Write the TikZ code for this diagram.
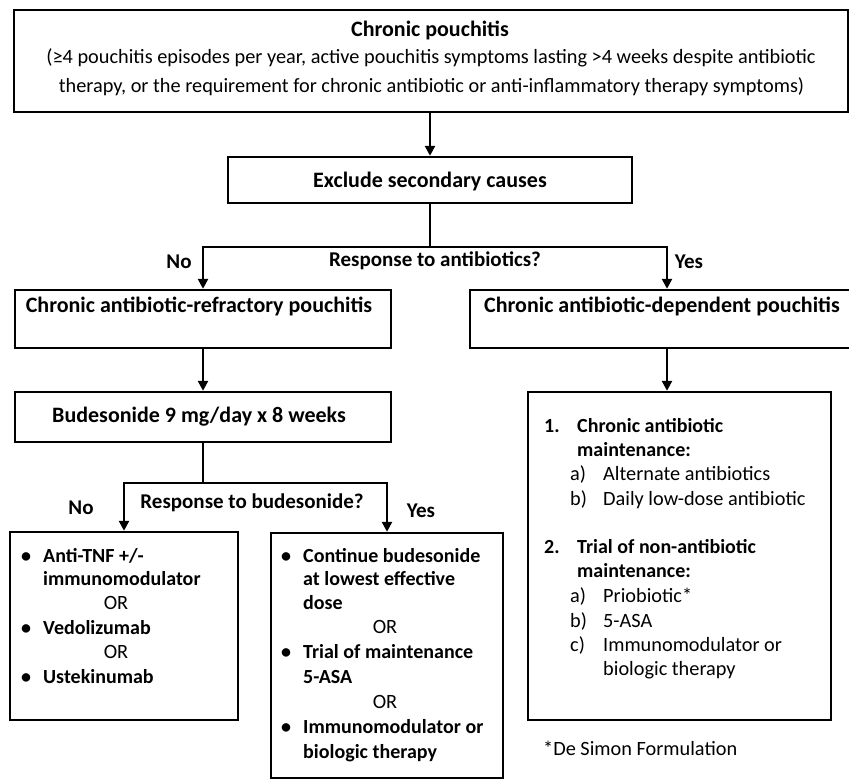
\documentclass[tikz,border=0pt]{standalone}
\usepackage{fontspec}
\setmainfont{Carlito}
\usetikzlibrary{arrows.meta}

\begin{document}
\begin{tikzpicture}[x=1pt,y=-1pt,
	box/.style={draw,line width=2.4pt,inner sep=0pt},
	ln/.style={line width=2.4pt},
	arr/.style={line width=2.4pt,-{Triangle[length=10pt,width=10pt]}},
	lbl/.style={inner sep=0pt,font=\fontsize{20.3}{24}\selectfont},
	hd/.style={inner sep=0pt,font=\fontsize{22}{26}\selectfont\bfseries},
	ask/.style={inner sep=0pt,font=\fontsize{21}{25}\selectfont\bfseries},
	item/.style={inner sep=0pt,font=\fontsize{20}{24}\selectfont\bfseries}]
		\useasboundingbox (0,0) rectangle (849,779);
		\node[box,minimum width=834pt,minimum height=102pt] (top) at (431,61) {};
		\node[box,minimum width=404pt,minimum height=46pt] (excl) at (430,180) {};
		\node[box,minimum width=376pt,minimum height=58pt] (refr) at (203,319) {};
		\node[box,minimum width=394pt,minimum height=58pt] (dep) at (667,319) {};
		\node[box,minimum width=376pt,minimum height=50pt] (bud) at (203,417) {};
		\node[box,minimum width=303pt,minimum height=328pt] (rbox) at (679.5,556) {};
		\node[box,minimum width=228pt,minimum height=188pt] (lbox) at (124,626) {};
		\node[box,minimum width=232pt,minimum height=245pt] (mbox) at (387,655.5) {};
		\coordinate (split1) at (430,247);
		\coordinate (split2) at (203,483);
		\draw [arr] (excl.north |- top.south) -- (excl.north);
		\draw [ln] (excl.south) -- (split1);
		\draw [arr] (split1) -| (refr.north);
		\draw [arr] (split1) -| (dep.north);
		\draw [arr] (refr.south) -- (bud.north);
		\draw [arr] (dep.south) -- (dep.south |- rbox.north);
		\draw [ln] (bud.south) -- (split2);
		\draw [arr] (split2) -| (lbox.north);
		\draw [arr] (split2) -| (mbox.north);
		% top part
		\node[hd,anchor=base] (toptitle) at (430,36) {Chronic pouchitis};
		\node[lbl,anchor=base] (topline1) at (431,63) {(≥4 pouchitis episodes per year, active pouchitis symptoms lasting >4 weeks despite antibiotic};
		\node[lbl,anchor=base] (topline2) at (431.5,92) {therapy, or the requirement for chronic antibiotic or anti-inflammatory therapy symptoms)};
		\node[hd,anchor=base] (excltext) at (430,187) {Exclude secondary causes};
		\node[ask,anchor=base] (no1) at (179,268) {No};
		\node[ask,anchor=base] (resp1) at (435,266) {Response to antibiotics?};
		\node[ask,anchor=base] (yes1) at (689,268) {Yes};
		\node[hd,anchor=base] (refrtext) at (199,312) {Chronic antibiotic-refractory pouchitis};
		\node[hd,anchor=base] (deptext) at (662,312) {Chronic antibiotic-dependent pouchitis};
		\node[hd,anchor=base] (budtext) at (199,422) {Budesonide 9 mg/day x 8 weeks};
		\node[ask,anchor=base] (no2) at (81,514) {No};
		\node[ask,anchor=base] (resp2) at (252,508) {Response to budesonide?};
		\node[ask,anchor=base] (yes2) at (421,517) {Yes};
		% right box
		\node[item,anchor=base west] (r1) at (544,432) {\makebox[33pt][l]{1.}Chronic antibiotic};
		\node[item,anchor=base west] (r2) at (577,456) {maintenance:};
		\node[lbl,anchor=base west] (r3) at (570,480) {\makebox[33pt][l]{a)}Alternate antibiotics};
		\node[lbl,anchor=base west] (r4) at (570,505) {\makebox[33pt][l]{b)}Daily low-dose antibiotic};
		\node[item,anchor=base west] (r5) at (544,553) {\makebox[33pt][l]{2.}Trial of non-antibiotic};
		\node[item,anchor=base west] (r6) at (577,577) {maintenance:};
		\node[lbl,anchor=base west] (r7) at (570,602) {\makebox[33pt][l]{a)}Priobiotic*};
		\node[lbl,anchor=base west] (r8) at (570,627) {\makebox[33pt][l]{b)}5-ASA};
		\node[lbl,anchor=base west] (r9) at (570,651) {\makebox[33pt][l]{c)}Immunomodulator or};
		\node[lbl,anchor=base west] (r10) at (603,675) {biologic therapy};
		\node[lbl,anchor=base west] (note) at (543,755) {*De Simon Formulation};
		% left box
		\node[item,anchor=base west] (l1) at (21,562) {\makebox[22pt][l]{\textbullet}Anti-TNF +/-};
		\node[item,anchor=base west] (l2) at (43,585) {immunomodulator};
		\node[lbl,anchor=base] (l3) at (116,609) {OR};
		\node[item,anchor=base west] (l4) at (21,634) {\makebox[22pt][l]{\textbullet}Vedolizumab};
		\node[lbl,anchor=base] (l5) at (116,658) {OR};
		\node[item,anchor=base west] (l6) at (21,683) {\makebox[22pt][l]{\textbullet}Ustekinumab};
		% middle box
		\node[item,anchor=base west] (m1) at (281,562) {\makebox[22pt][l]{\textbullet}Continue budesonide};
		\node[item,anchor=base west] (m2) at (303,585) {at lowest effective};
		\node[item,anchor=base west] (m3) at (303,609) {dose};
		\node[lbl,anchor=base] (m4) at (385,633) {OR};
		\node[item,anchor=base west] (m5) at (281,658) {\makebox[22pt][l]{\textbullet}Trial of maintenance};
		\node[item,anchor=base west] (m6) at (303,683) {5-ASA};
		\node[lbl,anchor=base] (m7) at (385,708) {OR};
		\node[item,anchor=base west] (m8) at (281,733) {\makebox[22pt][l]{\textbullet}Immunomodulator or};
		\node[item,anchor=base west] (m9) at (303,758) {biologic therapy};
\end{tikzpicture}
\end{document}
